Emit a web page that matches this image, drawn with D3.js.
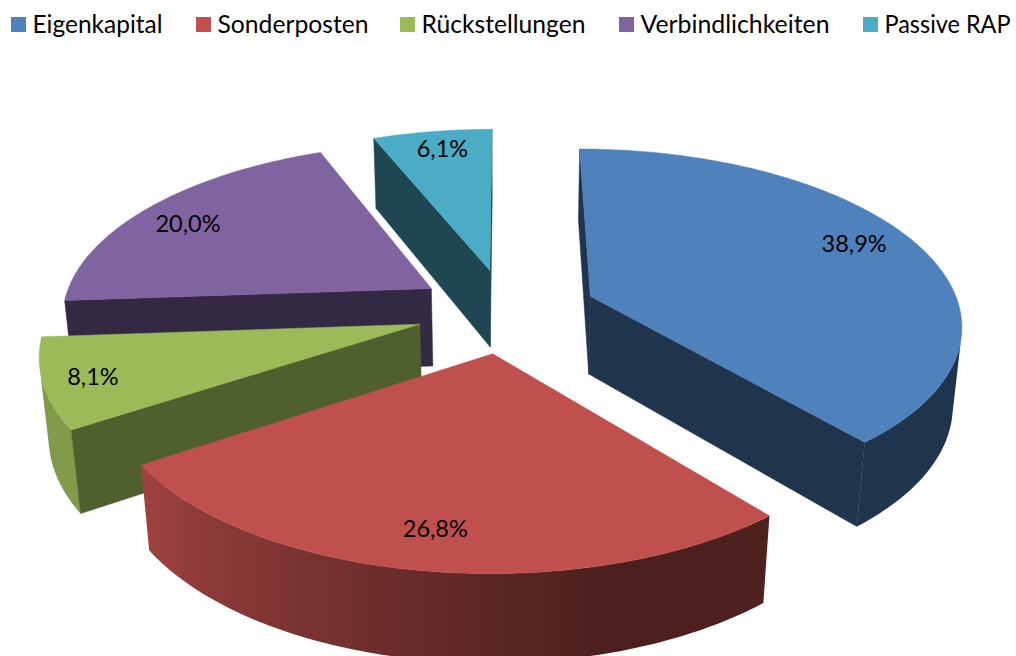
<!DOCTYPE html>
<html>
<head>
<meta charset="utf-8">
<script src="https://cdnjs.cloudflare.com/ajax/libs/d3/7.8.5/d3.min.js"></script>
<style>
  body { margin: 0; background: #fff; }
  text { font-family: Lato, "Open Sans", sans-serif; fill: #000; }
</style>
</head>
<body>
<div id="chart"></div>
<script>
// data
const categories = ["Eigenkapital", "Sonderposten", "Rückstellungen", "Verbindlichkeiten", "Passive RAP"];
const shares = [38.9, 26.8, 8.1, 20.0, 6.1];
const shareLabels = ["38,9%", "26,8%", "8,1%", "20,0%", "6,1%"];
const colors = ["#4f81bd", "#c0504d", "#9bbb59", "#8064a2", "#4bacc6"];

// how dark the flat cut faces are, per slice
const wallShades = [0.41, 0.4, 0.51, 0.41, 0.41];

// layout tweaks
const legendX = [11, 196, 400, 619, 863];
const legendTextWidth = [130, 151, 164, 189, 126];
const labelNudge = [[-10, -4], [-1, 0], [-13, 5], [-5, 7], [2, 0]];

const width = 1016, height = 656;

// camera: top plane of the pie seen in perspective, radius 1
const cam = { cx: 506.5, cy: 310.5, a: 370, b: 173, k: 0.148, q: 0.02, d: 80 };
const explode = 0.244;
const labelRadius = 0.84;

const svg = d3.select("#chart")
  .append("svg")
    .attr("width", width)
    .attr("height", height)
    .style("display", "block");

const defs = svg.append("defs");

// z = 0 top of pie, z = 1 bottom of pie
function project(p, z) {
  const w = 1 - cam.k * p[1] + cam.q * z;
  return [cam.cx + cam.a * p[0] / w, cam.cy + (cam.b * p[1] + cam.d * z) / w];
}

// angle is clockwise from the back of the pie, y grows toward the viewer
const ground = (angle, r, o) => [o[0] + r * Math.sin(angle), o[1] - r * Math.cos(angle)];

const pie = d3.pie().sort(null).startAngle(0).endAngle(2 * Math.PI);
const line = d3.line().curve(d3.curveLinearClosed);

// rim gets lighter toward the left of the front
const rimShade = d3.scaleLinear().domain([140, 165, 236]).range([0.41, 0.39, 0.83]).clamp(true);

function shaded(color, s) {
  const c = d3.rgb(color);
  return d3.rgb(c.r * s, c.g * s, c.b * s).formatHex();
}

const slices = pie(shares).map((d, i) => {
  const mid = (d.startAngle + d.endAngle) / 2;
  const apex = ground(mid, explode, [0, 0]);
  return { i, mid, apex, start: d.startAngle, end: d.endAngle };
}).sort((a, b) => a.apex[1] - b.apex[1]);

slices.forEach(s => {
  const g = svg.append("g").attr("class", "slice");
  const base = colors[s.i];
  const wall = shaded(base, wallShades[s.i]);

  // outline of the top face, apex then along the rim
  const angles = d3.range(0, 121).map(t => s.start + (s.end - s.start) * t / 120);
  const rim = angles.map(t => ({ p: ground(t, 1, s.apex), t }));
  const outline = [{ p: s.apex, t: null }].concat(rim);

  // rim, only the part turned to the viewer, one path with a left-right gradient
  const front = rim.filter((r, n) => {
    const next = rim[Math.min(n + 1, rim.length - 1)];
    const prev = rim[Math.max(n - 1, 0)];
    return d3.polygonArea([project(prev.p, 0), project(next.p, 0), project(next.p, 1), project(prev.p, 1)]) > 0;
  });
  if (front.length > 1) {
    const top = front.map(r => project(r.p, 0));
    const bottom = front.map(r => project(r.p, 1)).reverse();
    const xs = top.map(p => p[0]);
    const x0 = d3.min(xs), x1 = d3.max(xs);
    const id = "rim" + s.i;
    const grad = defs.append("linearGradient")
      .attr("id", id)
      .attr("gradientUnits", "userSpaceOnUse")
      .attr("x1", x0).attr("x2", x1)
      .attr("y1", 0).attr("y2", 0);
    front.map((r, n) => ({ off: (xs[n] - x0) / (x1 - x0), t: r.t }))
      .sort((a, b) => a.off - b.off)
      .forEach(st => {
        grad.append("stop")
          .attr("offset", st.off)
          .attr("stop-color", shaded(base, rimShade(st.t * 180 / Math.PI)));
      });
    g.append("path")
      .attr("d", line(top.concat(bottom)))
      .attr("fill", `url(#${id})`);
  }

  // flat cut faces, keep only those turned to the viewer
  [[outline[0], rim[0]], [rim[rim.length - 1], outline[0]]].forEach(([from, to]) => {
    const quad = [project(from.p, 0), project(to.p, 0), project(to.p, 1), project(from.p, 1)];
    if (d3.polygonArea(quad) <= 0) return;
    g.append("path")
      .attr("d", line(quad))
      .attr("fill", wall)
      .attr("stroke", wall)
      .attr("stroke-width", 0.5);
  });

  g.append("path")
    .attr("d", line(outline.map(o => project(o.p, 0))))
    .attr("fill", base)
    .attr("stroke", base)
    .attr("stroke-width", 0.5);
});

// value labels
slices.forEach(s => {
  const pos = project(ground(s.mid, labelRadius, s.apex), 0);
  svg.append("text")
    .attr("x", pos[0] + labelNudge[s.i][0])
    .attr("y", pos[1] + labelNudge[s.i][1])
    .attr("text-anchor", "middle")
    .attr("dominant-baseline", "middle")
    .style("font-size", "23.5px")
    .text(shareLabels[s.i]);
});

// legend
const legend = svg.selectAll(".legend")
  .data(categories)
  .join("g")
    .attr("class", "legend")
    .attr("transform", (d, i) => `translate(${legendX[i]},17)`);

legend.append("rect")
  .attr("width", 15)
  .attr("height", 15)
  .attr("fill", (d, i) => colors[i]);

legend.append("text")
  .attr("x", 21.5)
  .attr("y", 9.5)
  .attr("dominant-baseline", "middle")
  .attr("textLength", (d, i) => legendTextWidth[i])
  .attr("lengthAdjust", "spacingAndGlyphs")
  .style("font-size", "24.5px")
  .text(d => d);
</script>
</body>
</html>
